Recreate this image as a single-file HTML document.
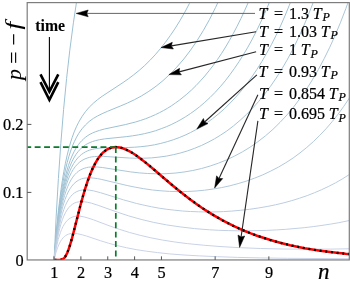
<!DOCTYPE html>
<html><head><meta charset="utf-8"><style>
html,body{margin:0;padding:0;background:#fff;}
svg{display:block;}
text{font-family:"Liberation Serif",serif;fill:#000;stroke:#000;stroke-width:0.22px;}
.lab text{font-size:16px;}
.it{font-style:italic;}
.sub{font-size:12px;}
.tk{font-size:16.3px;}
.yl{font-size:22px;} .yl text{stroke-width:0.08px;}
</style></head><body>
<svg width="350" height="281" viewBox="0 0 350 281">
<defs><clipPath id="c"><rect x="27.20" y="2.60" width="322.10" height="257.35"/></clipPath></defs>
<g clip-path="url(#c)" fill="none" stroke-width="1">
<path d="M54.1,259.8 56.2,216.1 58.4,178.4 60.8,143.6 63.6,109.3 66.6,78.4 69.8,50.2 73.4,22.8 77.6,-5.1" stroke="rgb(156,193,211)"/>
<path d="M54.1,259.9 56.2,232.9 58.4,210.6 61.0,189.6 62.4,180.1 63.8,171.7 65.4,163.3 67.0,155.9 68.6,149.4 70.4,143.0 72.2,137.4 74.2,131.9 76.4,126.8 78.6,122.3 81.8,116.8 85.4,111.7 89.3,107.1 93.7,102.9 97.5,99.7 102.1,96.3 123.1,82.5 128.7,78.6 133.7,74.8 139.3,70.3 144.7,65.5 149.9,60.4 155.1,54.9 160.2,48.9 165.4,42.3 170.4,35.4 175.4,28.0 180.2,20.2 184.8,12.2 189.4,3.5 193.8,-5.4" stroke="rgb(156,193,211)"/>
<path d="M54.1,259.9 56.2,234.5 58.6,212.0 61.2,192.8 62.6,184.2 64.0,176.7 65.6,169.1 67.2,162.5 68.8,156.7 70.6,151.1 72.4,146.2 74.4,141.5 76.6,137.1 78.8,133.3 82.0,128.8 85.4,125.0 89.1,121.5 93.5,118.3 97.5,116.0 102.1,113.7 107.3,111.4 120.7,105.9 127.5,103.0 134.7,99.6 141.5,95.9 148.9,91.3 156.1,86.2 163.0,80.6 169.6,74.5 173.2,70.9 176.8,67.1 183.8,59.0 190.6,50.1 197.0,40.7 203.4,30.4 209.6,19.3 215.6,7.4 221.4,-5.1" stroke="rgb(156,193,211)"/>
<path d="M54.1,259.9 56.2,236.1 58.4,216.6 59.6,207.7 61.0,198.5 62.4,190.4 63.8,183.4 65.2,177.2 66.8,171.0 68.4,165.6 70.2,160.4 72.0,156.0 74.0,151.8 76.2,147.9 78.4,144.6 80.2,142.4 82.0,140.4 83.8,138.7 85.7,137.1 87.9,135.5 90.1,134.2 92.5,133.0 95.3,131.8 99.5,130.4 104.5,129.0 125.3,124.6 135.5,122.0 140.7,120.4 145.7,118.7 150.7,116.7 155.5,114.6 159.6,112.6 163.6,110.5 167.6,108.2 171.6,105.7 175.6,102.9 179.4,100.2 186.8,94.2 191.4,90.1 196.0,85.6 200.4,80.9 204.8,76.0 209.2,70.6 213.4,65.2 217.6,59.3 221.6,53.4 225.6,47.0 229.5,40.3 233.3,33.5 237.1,26.2 240.9,18.6 244.5,10.9 248.1,2.8 251.5,-5.3" stroke="rgb(157,193,211)"/>
<path d="M54.1,259.9 56.2,237.1 58.4,218.5 60.8,202.4 62.2,194.6 63.6,187.9 65.0,181.9 66.6,176.0 68.2,171.0 70.0,166.1 71.8,161.9 73.8,158.0 76.0,154.4 78.2,151.5 80.0,149.5 81.8,147.7 83.8,146.1 85.7,144.7 87.9,143.5 90.1,142.5 92.5,141.5 95.3,140.7 99.5,139.7 104.5,138.9 126.9,136.6 132.7,135.8 138.3,134.9 144.3,133.7 150.1,132.3 155.7,130.7 161.2,128.7 166.2,126.8 171.2,124.6 176.2,122.1 181.0,119.5 185.8,116.6 190.4,113.6 195.0,110.3 199.4,106.9 204.8,102.3 210.0,97.5 215.2,92.3 220.2,86.8 225.2,80.9 229.9,74.7 234.5,68.3 239.1,61.5 243.5,54.5 247.9,47.1 252.3,39.1 256.5,30.9 260.7,22.2 264.7,13.4 268.7,4.0 272.5,-5.5" stroke="rgb(160,194,212)"/>
<path d="M54.1,259.9 56.2,238.0 58.4,220.2 60.8,204.9 62.2,197.5 63.6,191.1 65.0,185.5 66.6,180.0 68.2,175.3 69.8,171.2 71.6,167.3 73.6,163.6 75.6,160.6 77.8,157.9 79.6,156.1 81.4,154.5 83.4,153.1 85.4,151.9 87.5,150.9 89.7,150.1 92.1,149.4 94.9,148.8 99.1,148.2 104.1,147.8 128.1,147.5 134.7,147.2 140.9,146.7 147.9,145.9 154.5,144.8 160.8,143.4 167.2,141.7 173.2,139.8 179.2,137.6 185.0,135.2 190.6,132.5 196.2,129.5 201.8,126.2 207.2,122.6 212.4,118.8 218.4,114.0 224.4,108.8 230.1,103.1 235.7,97.2 241.1,91.0 246.5,84.2 251.7,77.1 256.9,69.4 261.9,61.5 266.7,53.2 271.5,44.4 276.1,35.3 280.5,26.0 284.9,16.0 289.3,5.3 293.5,-5.5" stroke="rgb(163,195,212)"/>
<path d="M54.1,259.9 56.2,238.9 58.4,221.9 60.8,207.4 62.0,201.4 63.4,195.2 64.8,189.8 66.4,184.6 68.0,180.1 69.6,176.2 71.4,172.6 73.2,169.5 75.2,166.7 77.4,164.2 79.2,162.5 81.0,161.1 83.0,159.9 85.0,158.9 87.1,158.1 89.3,157.4 91.7,156.9 94.5,156.6 98.7,156.3 103.5,156.4 129.3,158.0 136.7,158.3 143.7,158.2 151.5,157.9 159.0,157.1 166.4,156.1 173.8,154.6 180.8,152.9 187.8,150.8 194.6,148.3 201.4,145.5 208.0,142.3 214.4,138.9 220.6,135.1 226.8,131.0 233.5,125.9 240.1,120.3 246.5,114.4 252.7,108.1 258.7,101.4 264.7,94.0 270.5,86.3 276.1,78.1 281.5,69.6 286.9,60.3 292.1,50.7 297.1,40.6 302.0,29.9 306.8,18.7 311.4,7.2 316.0,-5.1" stroke="rgb(167,197,214)"/>
<path d="M54.1,259.9 56.0,241.8 58.2,225.6 60.6,211.8 61.8,206.1 63.2,200.4 64.6,195.4 66.0,191.1 67.6,186.8 69.2,183.3 71.0,179.9 72.8,177.1 74.8,174.6 76.8,172.6 78.4,171.3 80.2,170.1 82.2,169.1 84.2,168.3 86.3,167.7 88.5,167.2 90.9,167.0 93.5,166.9 97.5,167.0 102.3,167.5 130.7,171.9 139.3,172.9 147.7,173.5 156.8,173.8 166.0,173.7 175.0,173.1 184.0,172.0 192.8,170.5 201.6,168.5 210.2,166.0 218.6,163.1 226.8,159.8 234.7,156.0 242.5,151.8 249.9,147.3 257.9,141.7 265.5,135.8 272.9,129.4 280.1,122.3 287.1,114.8 293.7,106.9 300.0,98.5 306.4,89.3 312.4,79.8 318.4,69.5 324.2,58.6 329.8,47.2 335.2,35.2 340.6,22.2 345.8,8.7 350.8,-5.3" stroke="rgb(172,199,216)"/>
<path d="M54.1,259.9 56.2,241.6 58.4,227.0 60.8,214.7 62.2,208.9 63.6,203.9 65.0,199.6 66.6,195.5 68.2,192.0 70.0,188.8 71.8,186.2 73.8,183.8 76.0,181.9 78.2,180.4 79.8,179.6 81.4,178.9 83.2,178.4 85.0,178.1 88.9,177.8 93.7,178.1 97.5,178.6 101.9,179.5 127.9,185.7 135.9,187.3 143.7,188.7 152.5,190.0 161.0,190.8 169.6,191.4 178.4,191.6 187.2,191.5 196.0,191.0 204.6,190.2 213.2,189.0 221.6,187.6 229.9,185.8 238.1,183.6 246.1,181.2 254.5,178.2 262.7,174.9 270.7,171.1 278.3,167.2 285.9,162.7 293.1,158.0 300.0,152.9 306.8,147.4 313.4,141.6 319.8,135.3 326.0,128.8 332.2,121.6 338.0,114.3 343.8,106.3 349.4,98.0 354.8,89.3" stroke="rgb(178,201,219)"/>
<path d="M54.1,259.9 56.2,243.4 58.4,230.3 59.6,224.5 61.0,218.7 62.4,213.7 63.8,209.5 65.4,205.4 67.0,202.1 68.8,199.0 70.6,196.6 72.6,194.4 74.6,192.8 76.8,191.6 79.2,190.6 82.2,190.0 85.4,189.8 89.1,190.1 93.3,190.8 100.5,192.7 123.3,199.8 136.7,203.5 144.1,205.2 151.7,206.8 159.2,208.2 166.8,209.3 174.6,210.2 182.4,211.0 190.4,211.5 198.6,211.8 206.8,212.0 215.0,211.9 223.4,211.6 231.5,211.1 240.5,210.3 249.5,209.3 258.3,208.0 267.1,206.5 275.5,204.8 283.9,202.8 291.9,200.6 299.6,198.2 307.2,195.6 314.6,192.7 321.8,189.6 328.8,186.3 335.6,182.8 342.2,179.0 348.6,175.0 354.8,170.8" stroke="rgb(187,205,224)"/>
<path d="M54.1,259.9 56.2,245.3 58.4,233.9 59.6,228.9 61.0,223.9 62.4,219.6 63.8,216.1 65.4,212.8 67.0,210.0 68.6,207.8 70.4,205.9 72.4,204.3 74.4,203.1 76.6,202.3 79.0,201.8 81.6,201.6 84.6,201.8 87.7,202.3 91.5,203.2 98.1,205.3 117.5,212.2 128.7,215.9 141.1,219.4 153.7,222.4 166.6,224.9 180.2,226.9 194.6,228.6 209.6,229.8 218.8,230.3 228.1,230.6 237.7,230.8 247.3,230.8 266.7,230.4 276.3,229.9 285.9,229.3 304.2,227.7 313.2,226.6 322.0,225.4 330.6,224.1 338.8,222.7 347.0,221.0 354.8,219.3" stroke="rgb(195,208,227)"/>
<path d="M54.1,259.9 56.0,249.0 58.2,239.6 60.4,232.6 61.6,229.5 63.0,226.5 64.4,224.1 65.8,222.1 67.4,220.3 69.0,218.9 70.8,217.8 72.8,216.9 74.8,216.4 77.0,216.1 79.4,216.2 82.0,216.5 84.8,217.1 87.9,218.0 93.7,219.9 110.1,226.1 119.3,229.3 129.7,232.5 140.1,235.3 150.9,237.8 162.2,240.0 174.2,241.9 187.2,243.6 203.4,245.2 221.0,246.6 240.1,247.7 260.7,248.5 283.1,249.0 306.6,249.2 330.8,249.1 354.8,248.7" stroke="rgb(201,210,230)"/>
<path d="M54.1,259.9 55.8,253.0 57.6,247.6 59.6,243.0 60.6,241.2 61.8,239.4 63.0,237.9 64.2,236.7 65.6,235.6 67.0,234.8 68.4,234.2 70.0,233.7 71.6,233.5 73.4,233.4 75.4,233.5 77.4,233.7 82.2,234.8 86.7,236.1 100.7,240.8 108.5,243.2 117.3,245.6 126.3,247.7 136.1,249.6 146.5,251.2 157.6,252.6 169.6,253.9 184.0,255.0 199.8,255.9 217.6,256.7 237.7,257.4 260.7,257.9 287.3,258.3 354.8,258.8" stroke="rgb(203,211,231)"/>
</g>
<g clip-path="url(#c)" fill="none">
<path d="M54.6,259.9 60.4,259.8 61.6,259.6 62.8,259.1 64.0,258.2 65.2,256.7 66.2,255.0 67.4,252.4 68.4,249.9 69.4,247.0 71.6,239.7 73.8,231.4 80.8,204.0 83.2,195.3 85.4,188.0 87.8,180.7 90.2,174.3 92.6,168.6 95.2,163.4 97.4,159.6 99.8,156.2 102.2,153.4 103.4,152.2 104.7,151.2 105.9,150.3 107.3,149.4 108.5,148.8 109.9,148.2 111.3,147.7 112.7,147.4 114.1,147.2 115.5,147.1 117.5,147.2 119.7,147.5 121.9,148.0 124.1,148.8 126.5,149.8 129.1,151.1 131.7,152.5 134.5,154.3 137.3,156.2 140.3,158.4 146.9,163.6 153.3,169.0 170.5,183.7 180.3,191.8 188.6,198.2 196.4,203.9 201.8,207.7 207.0,211.1 212.2,214.4 217.4,217.4 222.6,220.4 228.0,223.2 233.4,225.9 238.8,228.4 244.8,231.0 250.8,233.4 257.0,235.7 263.3,237.8 269.7,239.8 276.3,241.7 283.1,243.5 290.1,245.2 297.3,246.7 304.7,248.2 312.3,249.5 320.1,250.7 328.3,251.8 336.7,252.8 345.6,253.8 354.8,254.6" stroke="#f00" stroke-width="2.5"/>
<path d="M54.6,259.9 60.4,259.8 61.6,259.6 62.8,259.1 64.0,258.2 65.2,256.7 66.2,255.0 67.4,252.4 68.4,249.9 69.4,247.0 71.6,239.7 73.8,231.4 80.8,204.0 83.2,195.3 85.4,188.0 87.8,180.7 90.2,174.3 92.6,168.6 95.2,163.4 97.4,159.6 99.8,156.2 102.2,153.4 103.4,152.2 104.7,151.2 105.9,150.3 107.3,149.4 108.5,148.8 109.9,148.2 111.3,147.7 112.7,147.4 114.1,147.2 115.5,147.1 117.5,147.2 119.7,147.5 121.9,148.0 124.1,148.8 126.5,149.8 129.1,151.1 131.7,152.5 134.5,154.3 137.3,156.2 140.3,158.4 146.9,163.6 153.3,169.0 170.5,183.7 180.3,191.8 188.6,198.2 196.4,203.9 201.8,207.7 207.0,211.1 212.2,214.4 217.4,217.4 222.6,220.4 228.0,223.2 233.4,225.9 238.8,228.4 244.8,231.0 250.8,233.4 257.0,235.7 263.3,237.8 269.7,239.8 276.3,241.7 283.1,243.5 290.1,245.2 297.3,246.7 304.7,248.2 312.3,249.5 320.1,250.7 328.3,251.8 336.7,252.8 345.6,253.8 354.8,254.6" stroke="#000" stroke-width="2.3" stroke-dasharray="1.9 3.8"/>
</g>
<g stroke="#0b7a2b" stroke-width="1.7" stroke-dasharray="5.9 3.5" fill="none" clip-path="url(#c)">
<line x1="115.80" y1="147.10" x2="27.20" y2="147.10"/>
<line x1="115.80" y1="147.10" x2="115.80" y2="259.95"/>
</g>
<rect x="27.20" y="2.60" width="322.10" height="257.35" fill="none" stroke="#7d7d7d" stroke-width="1.2"/>
<g stroke="#555" stroke-width="1"><line x1="54.05" y1="259.95" x2="54.05" y2="256.35"/><line x1="80.90" y1="259.95" x2="80.90" y2="256.35"/><line x1="107.75" y1="259.95" x2="107.75" y2="256.35"/><line x1="134.60" y1="259.95" x2="134.60" y2="256.35"/><line x1="161.45" y1="259.95" x2="161.45" y2="256.35"/><line x1="215.15" y1="259.95" x2="215.15" y2="256.35"/><line x1="268.85" y1="259.95" x2="268.85" y2="256.35"/><line x1="27.20" y1="192.40" x2="31.40" y2="192.40"/><line x1="27.20" y1="124.40" x2="31.40" y2="124.40"/></g>
<g class="tk"><text x="54.25" y="278.2" text-anchor="middle">1</text><text x="81.10" y="278.2" text-anchor="middle">2</text><text x="107.95" y="278.2" text-anchor="middle">3</text><text x="134.80" y="278.2" text-anchor="middle">4</text><text x="161.65" y="278.2" text-anchor="middle">5</text><text x="215.35" y="278.2" text-anchor="middle">7</text><text x="269.05" y="278.2" text-anchor="middle">9</text>
<text x="23.6" y="265.8" text-anchor="end">0</text>
<text x="23.4" y="198.3" text-anchor="end">0.1</text>
<text x="23.4" y="130.2" text-anchor="end">0.2</text>
</g>
<text x="318.0" y="278.9" class="it" style="font-size:23px">n</text>
<g class="yl">
<text transform="translate(20.6,80.1) rotate(-90)" class="it">p</text>
<text transform="translate(20.6,63.7) rotate(-90)">=</text>
<text transform="translate(20.6,45.6) rotate(-90)">&#8722;</text>
<text transform="translate(20.4,29.6) rotate(-90) scale(1.25,0.95)" class="it">f</text>
</g>
<text x="35.3" y="31.4" style="font-size:15.8px;font-weight:bold;stroke-width:0.05px">time</text>
<line x1="49.4" y1="37" x2="49.4" y2="92" stroke="#000" stroke-width="1.1"/>
<g fill="none" stroke="#000" stroke-width="2.6">
<polyline points="40.5,74.4 49.4,91.6 58.3,74.4"/>
<polyline points="40.5,82.2 49.4,99.8 58.3,82.2"/>
</g>
<g stroke="#262626" stroke-width="1.1" fill="#000">
<line x1="255.0" y1="13.4" x2="86.8" y2="13.4" stroke="#555" stroke-width="0.9"/><path d="M76.2,13.4 L88.2,10.0 L86.8,13.4 L88.2,16.8 Z" stroke="#000" stroke-width="0.5"/>
<line x1="256.1" y1="31.8" x2="171.4" y2="45.9"/><path d="M161.0,47.6 L172.3,42.3 L171.4,45.9 L173.4,49.0 Z" stroke="#000" stroke-width="0.5"/>
<line x1="256.1" y1="51.7" x2="179.1" y2="71.9"/><path d="M168.9,74.6 L179.6,68.3 L179.1,71.9 L181.4,74.8 Z" stroke="#000" stroke-width="0.5"/>
<line x1="256.9" y1="74.9" x2="204.6" y2="122.0"/><path d="M196.8,129.1 L203.4,118.5 L204.6,122.0 L208.0,123.6 Z" stroke="#000" stroke-width="0.5"/>
<line x1="257.9" y1="94.8" x2="219.0" y2="178.5"/><path d="M214.6,188.1 L216.6,175.8 L219.0,178.5 L222.7,178.6 Z" stroke="#000" stroke-width="0.5"/>
<line x1="257.9" y1="120.9" x2="241.1" y2="236.9"/><path d="M239.6,247.4 L238.0,235.0 L241.1,236.9 L244.7,236.0 Z" stroke="#000" stroke-width="0.5"/>
</g>
<g class="lab">
<text y="18.6"><tspan x="258.6" class="it">T</tspan><tspan x="274.0">=</tspan><tspan x="289.1">1.3</tspan><tspan x="312.7" class="it">T</tspan><tspan x="322.6" y="20.8" class="it sub">P</tspan></text>
<text y="36.9"><tspan x="258.9" class="it">T</tspan><tspan x="274.0">=</tspan><tspan x="289.1">1.03</tspan><tspan x="320.7" class="it">T</tspan><tspan x="330.6" y="39.1" class="it sub">P</tspan></text>
<text y="55.4"><tspan x="258.9" class="it">T</tspan><tspan x="274.0">=</tspan><tspan x="289.1">1</tspan><tspan x="300.7" class="it">T</tspan><tspan x="310.6" y="57.6" class="it sub">P</tspan></text>
<text y="76.7"><tspan x="258.4" class="it">T</tspan><tspan x="274.0">=</tspan><tspan x="289.1">0.93</tspan><tspan x="320.7" class="it">T</tspan><tspan x="330.6" y="78.9" class="it sub">P</tspan></text>
<text y="98.8"><tspan x="258.9" class="it">T</tspan><tspan x="274.0">=</tspan><tspan x="289.1">0.854</tspan><tspan x="328.7" class="it">T</tspan><tspan x="338.6" y="101.0" class="it sub">P</tspan></text>
<text y="119.4"><tspan x="258.9" class="it">T</tspan><tspan x="274.0">=</tspan><tspan x="289.1">0.695</tspan><tspan x="328.7" class="it">T</tspan><tspan x="338.6" y="121.6" class="it sub">P</tspan></text>
</g>
</svg>
</body></html>
